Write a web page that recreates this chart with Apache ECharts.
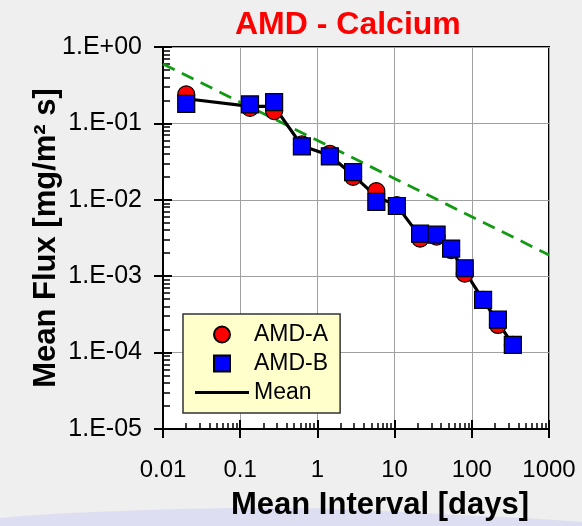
<!DOCTYPE html>
<html>
<head>
<meta charset="UTF-8">
<title>AMD - Calcium</title>
<script src="https://cdn.jsdelivr.net/npm/echarts@6.0.0/dist/echarts.min.js"></script>
<style>
  html, body { margin: 0; padding: 0; background: #efefef; }
  #chart { width: 582px; height: 526px; }
</style>
</head>
<body>
<div id="chart"></div>
<script>
// mean interval [days]
var intervals = [0.02, 0.134, 0.275, 0.63, 1.45, 2.9, 5.8, 10.7, 21.4, 35, 54, 81, 140, 218, 340];
// mean flux [mg/m2 s]
var amdA = [0.24, 0.16, 0.145, 0.053, 0.040, 0.020, 0.013, 0.0085, 0.0031, 0.0033, 0.0022, 0.00108, 0.00049, 0.00023, 0.000126];
var amdB = [0.18, 0.177, 0.19, 0.050, 0.037, 0.023, 0.0094, 0.0083, 0.0036, 0.0035, 0.0023, 0.00127, 0.00049, 0.00027, 0.000126];
var meanFlux = [0.21, 0.167, 0.167, 0.051, 0.038, 0.021, 0.011, 0.0084, 0.0033, 0.0034, 0.0022, 0.00117, 0.00049, 0.00025, 0.000126];
// dashed reference line (two end points)
var fitX = [0.01, 1000];
var fitY = [0.6, 0.0019];

var xTickLabels = ['0.01', '0.1', '1', '10', '100', '1000'];
var yTickLabels = ['1.E-05', '1.E-04', '1.E-03', '1.E-02', '1.E-01', '1.E+00'];

// minor ticks at 2..9 of each decade
function minorTicks(fromExp, toExp) {
    var out = [];
    for (var e = fromExp; e < toExp; e++) {
        for (var k = 2; k <= 9; k++) out.push(k * Math.pow(10, e));
    }
    return out;
}
function majorTicks(fromExp, toExp) {
    var out = [];
    for (var e = fromExp; e <= toExp; e++) out.push(Math.pow(10, e));
    return out;
}

var font = 'Liberation Sans, Arial, sans-serif';
var pairs = function (xs, ys) { return xs.map(function (x, i) { return [x, ys[i]]; }); };

var chart = echarts.init(document.getElementById('chart'));

function tickAxis(extra) {
    var base = {
        type: 'log',
        logBase: 10,
        axisLine: { show: false },
        axisLabel: { show: false },
        splitLine: { show: false },
        silent: true
    };
    return Object.assign(base, extra);
}

chart.setOption({
    backgroundColor: '#efefef',
    animation: false,
    title: {
        text: 'AMD - Calcium',
        left: 235,
        top: 9,
        padding: 0,
        textStyle: { color: '#ff0000', fontSize: 32, fontWeight: 'bold', fontFamily: font }
    },
    graphic: [{
        type: 'polygon',
        silent: true,
        z: -10,
        shape: {
            points: [[0, 526], [0, 518], [150, 510], [300, 508], [440, 514], [582, 522], [582, 526]],
            smooth: 0.3
        },
        style: { fill: '#dedef2' }
    }],
    grid: {
        left: 163, top: 47, right: 33, bottom: 94,
        show: true, backgroundColor: '#ffffff', borderColor: '#000', borderWidth: 2
    },
    legend: {
        orient: 'vertical',
        left: 183, top: 314,
        padding: [9, 12, 9, 12],
        itemWidth: 54, itemHeight: 16, itemGap: 6,
        backgroundColor: '#ffffcc',
        borderColor: '#333', borderWidth: 1.5, borderRadius: 0,
        textStyle: { color: '#000', fontSize: 23, fontFamily: font },
        data: [
            { name: 'AMD-A' },
            { name: 'AMD-B', icon: 'path://M0,0H10V10H0Z' },
            { name: 'Mean', icon: 'path://M0,0H18V1H0Z' }
        ]
    },
    xAxis: [{
        type: 'log', logBase: 10, min: 0.01, max: 1000, position: 'bottom',
        name: 'Mean Interval [days]', nameLocation: 'middle', nameGap: 61, nameMoveOverlap: false,
        nameTextStyle: { color: '#000', fontSize: 31, fontWeight: 'bold', fontFamily: font, padding: [0, 0, 0, 48] },
        axisLine: { lineStyle: { color: '#000', width: 2 } },
        axisTick: { length: 9, lineStyle: { color: '#000', width: 2 } },
        axisLabel: {
            margin: 29, color: '#000', fontSize: 24, fontFamily: font,
            formatter: function (v) { return xTickLabels[Math.round(Math.log10(v)) + 2]; }
        },
        splitLine: { show: true, lineStyle: { color: '#a0a0a0', width: 1 } }
    }, tickAxis({
        min: 0.01, max: 1000, position: 'bottom',
        axisTick: { show: true, inside: true, length: 9, customValues: majorTicks(-2, 3), lineStyle: { color: '#000', width: 2 } }
    }), tickAxis({
        min: 0.01, max: 1000, position: 'bottom',
        axisTick: { show: true, inside: true, length: 6, customValues: minorTicks(-2, 3), lineStyle: { color: '#000', width: 1.5 } }
    })],
    yAxis: [{
        type: 'log', logBase: 10, min: 1e-5, max: 1, position: 'left',
        name: 'Mean Flux [mg/m² s]', nameLocation: 'middle', nameGap: 101, nameMoveOverlap: false,
        nameTextStyle: { color: '#000', fontSize: 31, fontWeight: 'bold', fontFamily: font },
        axisLine: { lineStyle: { color: '#000', width: 2 } },
        axisTick: { length: 9, lineStyle: { color: '#000', width: 2 } },
        axisLabel: {
            margin: 21, color: '#000', fontSize: 25, fontFamily: font,
            formatter: function (v) { return yTickLabels[Math.round(Math.log10(v)) + 5]; }
        },
        splitLine: { show: true, lineStyle: { color: '#a0a0a0', width: 1 } }
    }, tickAxis({
        min: 1e-5, max: 1, position: 'left',
        axisTick: { show: true, inside: true, length: 9, customValues: majorTicks(-5, 0), lineStyle: { color: '#000', width: 2 } }
    }), tickAxis({
        min: 1e-5, max: 1, position: 'left',
        axisTick: { show: true, inside: true, length: 7, customValues: minorTicks(-5, 0), lineStyle: { color: '#000', width: 1.5 } }
    })],
    series: [{
        name: 'Fit',
        type: 'line',
        data: pairs(fitX, fitY),
        symbol: 'none',
        lineStyle: { color: '#129a12', width: 2.8, type: [13, 8] },
        z: 1
    }, {
        name: 'Mean',
        type: 'line',
        data: pairs(intervals, meanFlux),
        symbol: 'none',
        lineStyle: { color: '#000', width: 3.2 },
        itemStyle: { color: '#000' },
        z: 2
    }, {
        name: 'AMD-A',
        type: 'scatter',
        data: pairs(intervals, amdA),
        symbol: 'circle',
        symbolSize: 17,
        itemStyle: { color: '#ff0000', borderColor: '#000', borderWidth: 1.2, opacity: 1 },
        z: 3
    }, {
        name: 'AMD-B',
        type: 'scatter',
        data: pairs(intervals, amdB),
        symbol: 'rect',
        symbolSize: 17,
        itemStyle: { color: '#0000ff', borderColor: '#000', borderWidth: 1.2, opacity: 1 },
        z: 4
    }]
});
</script>
</body>
</html>
